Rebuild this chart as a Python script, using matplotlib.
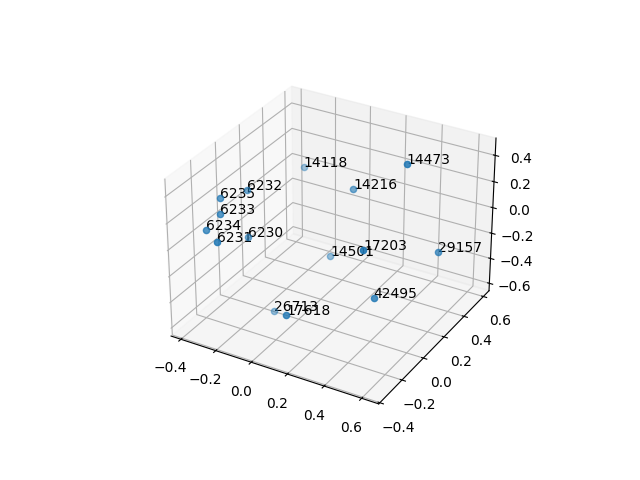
import matplotlib
matplotlib.use('Agg')
import matplotlib.pyplot as plt

labels = ['6230', '6231', '6232', '6233', '6234', '6235', '14118', '14216',
          '14473', '14501', '17203', '17618', '26713', '29157', '42495']
xs = [-0.242, -0.154, -0.329, -0.259, -0.293, -0.278, -0.308, 0.162,
      0.506, 0.068, 0.421, 0.175, -0.069, 0.638, 0.548]
ys = [-0.061, -0.432, 0.066, -0.258, -0.322, -0.227, 0.536, 0.231,
      0.130, 0.176, -0.108, -0.375, -0.110, 0.210, -0.224]
zs = [-0.067, 0.206, 0.168, 0.244, 0.158, 0.334, 0.030, 0.246,
      0.625, -0.267, 0.136, -0.244, -0.535, -0.030, -0.077]
shades = [0.6, 0.85, 0.6, 0.75, 0.75, 0.7, 0.4, 0.6,
          0.85, 0.45, 0.9, 0.8, 0.45, 0.7, 0.8]

fig = plt.figure()
ax = fig.add_subplot(projection='3d')
for x, y, z, a in zip(xs, ys, zs, shades):
    ax.scatter([x], [y], [z], color='C0', alpha=a, depthshade=False)
for x, y, z, label in zip(xs, ys, zs, labels):
    ax.text(x, y, z, label)
ax.set_xlim(-0.457, 0.69)
ax.set_ylim(-0.41, 0.66)
ax.set_zlim(-0.66, 0.53)
fig.savefig('out.png', dpi=100)
